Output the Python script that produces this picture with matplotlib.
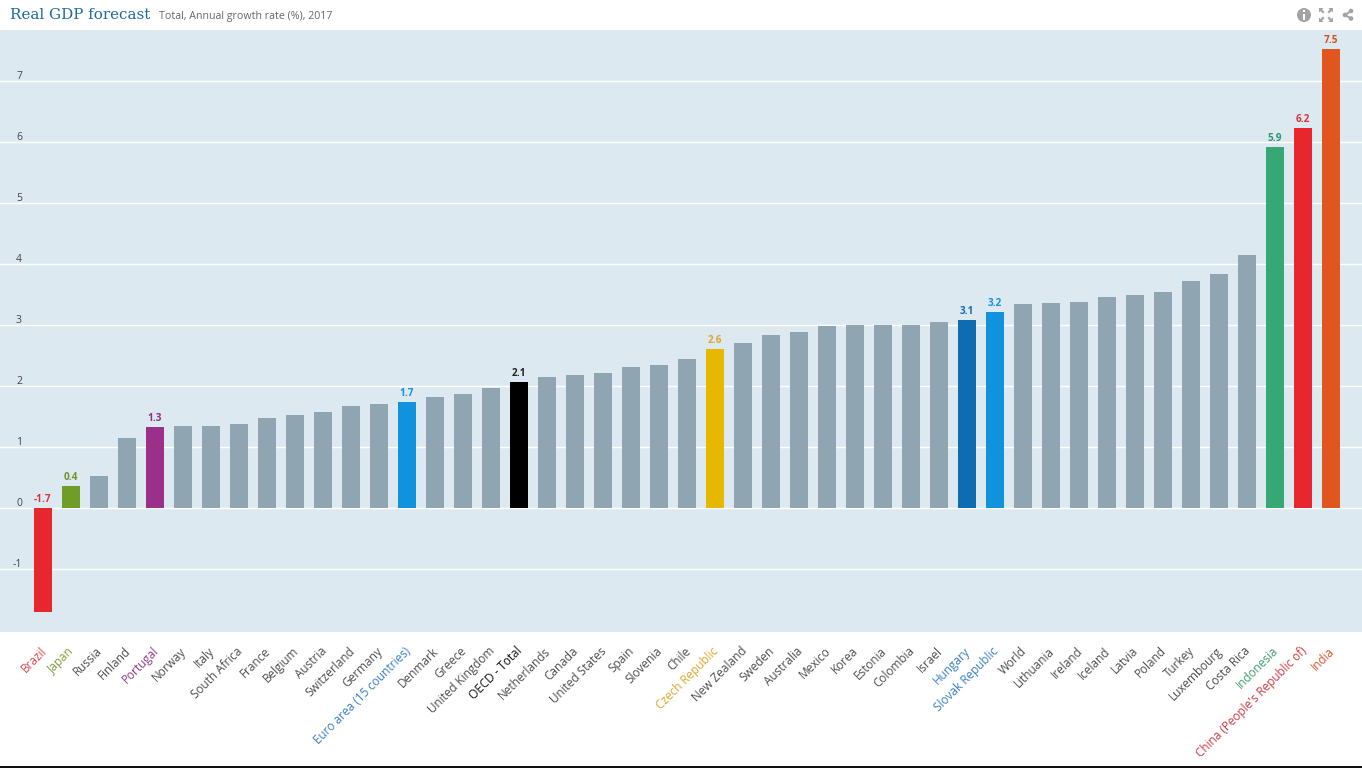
import matplotlib
matplotlib.use("Agg")
import matplotlib.pyplot as plt
from matplotlib.patches import Circle, Rectangle, Polygon
from matplotlib.transforms import ScaledTranslation

paises = ["Brazil", "Japan", "Russia", "Finland", "Portugal", "Norway", "Italy", "South Africa",
          "France", "Belgium", "Austria", "Switzerland", "Germany", "Euro area (15 countries)",
          "Denmark", "Greece", "United Kingdom", "OECD - Total", "Netherlands", "Canada",
          "United States", "Spain", "Slovenia", "Chile", "Czech Republic", "New Zealand", "Sweden",
          "Australia", "Mexico", "Korea", "Estonia", "Colombia", "Israel", "Hungary",
          "Slovak Republic", "World", "Lithuania", "Ireland", "Iceland", "Latvia", "Poland",
          "Turkey", "Luxembourg", "Costa Rica", "Indonesia", "China (People's Republic of)", "India"]
valores = [-1.70, 0.36, 0.52, 1.15, 1.33, 1.34, 1.35, 1.38, 1.48, 1.53, 1.57, 1.67, 1.70, 1.73,
           1.82, 1.87, 1.96, 2.07, 2.15, 2.18, 2.21, 2.31, 2.35, 2.44, 2.60, 2.70, 2.84, 2.89,
           2.98, 3.00, 3.00, 3.00, 3.05, 3.08, 3.22, 3.34, 3.36, 3.38, 3.46, 3.49, 3.54, 3.72,
           3.83, 4.14, 5.92, 6.23, 7.52]
y_ticks = [-1, 0, 1, 2, 3, 4, 5, 6, 7]

# colores de las barras destacadas
destacados = {"Brazil": "#e8262e", "Japan": "#6f9e28", "Portugal": "#9b3088",
              "Euro area (15 countries)": "#1192dc", "OECD - Total": "#000000",
              "Czech Republic": "#e6b800", "Hungary": "#0f6cb0", "Slovak Republic": "#1192dc",
              "Indonesia": "#35a873", "China (People's Republic of)": "#e8262e", "India": "#e0561e"}
color_etiqueta = {"Brazil": "#d9484d", "Japan": "#7d9e3c", "Portugal": "#8f3f85",
                  "Euro area (15 countries)": "#3a80c4", "Hungary": "#3a80c4", "Slovak Republic": "#3a80c4",
                  "Czech Republic": "#dca72a", "OECD - Total": "#111111", "Indonesia": "#3f9a70",
                  "China (People's Republic of)": "#cc3a42", "India": "#d2532c"}
color_valor = {"Brazil": "#d6343a", "Japan": "#6f9428", "Portugal": "#93307f", "Indonesia": "#2f9468",
               "China (People's Republic of)": "#d6343a", "India": "#d0501f",
               "Czech Republic": "#dca72a", "OECD - Total": "#222222"}
gris = "#8fa5b2"
fondo = "#dde9f1"

plt.rcParams["font.family"] = ["Open Sans", "DejaVu Sans"]
plt.rcParams["axes.unicode_minus"] = False

fig = plt.figure(figsize=(13.62, 7.68), dpi=100)
ax = fig.add_axes([0, 1 - 632 / 768, 1, 602 / 768])
ax.set_facecolor(fondo)

x = list(range(len(paises)))
colores = [destacados.get(p, gris) for p in paises]
ax.bar(x, valores, width=18 / 28, color=colores, zorder=3)
ax.set_xlim(-43 / 28, (1362 - 43) / 28)
ax.set_ylim(-124 / 61, 478 / 61)

for s in ax.spines.values():
    s.set_visible(False)
ax.set_yticks(y_ticks)
ax.grid(axis="y", color="white", lw=1, zorder=1)
ax.tick_params(axis="y", length=0, pad=-22 * 0.72, labelsize=7.5, labelcolor="#444444")
for lab in ax.get_yticklabels():
    lab.set_va("bottom")
    lab.set_transform(lab.get_transform() + ScaledTranslation(0, -1 / 100, fig.dpi_scale_trans))

ax.set_xticks(x)
ax.set_xticklabels(paises, rotation=45, ha="right", rotation_mode="anchor", fontsize=8.5)
ax.tick_params(axis="x", length=0, pad=9)
mover = ScaledTranslation(-3 / 100, 0, fig.dpi_scale_trans)
for lab, p in zip(ax.get_xticklabels(), paises):
    lab.set_color(color_etiqueta.get(p, "#4d4d4d"))
    lab.set_transform(lab.get_transform() + mover)

# valores sobre las barras destacadas
for i, p in enumerate(paises):
    if p in destacados:
        ax.annotate(f"{valores[i]:.1f}", (i, max(valores[i], 0)), xytext=(0, 2.2),
                    textcoords="offset points", ha="center", va="bottom", fontsize=7.2,
                    fontweight="bold", color=color_valor.get(p, destacados[p]), zorder=4)

# titulo
fig.text(10 / 1362, 1 - 15 / 768, "Real GDP forecast", family="DejaVu Serif", fontsize=10.9,
         color="#1f6a9f", va="center")
fig.text(159 / 1362, 1 - 16 / 768, "Total, Annual growth rate (%), 2017", fontsize=7.65,
         color="#666666", va="center")

# iconos y borde inferior, en pixeles
over = fig.add_axes([0, 0, 1, 1], facecolor="none")
over.set_xlim(0, 1362)
over.set_ylim(768, 0)
over.axis("off")
ic = "#a3a3a3"
over.add_patch(Circle((1304, 15), 7, color=ic, lw=0))
over.add_patch(Rectangle((1302.8, 13.5), 2.4, 6, color="white", lw=0))
over.add_patch(Rectangle((1302.8, 10), 2.4, 2.2, color="white", lw=0))
for cx, cy, sx, sy in [(1319, 8, 1, 1), (1333, 8, -1, 1), (1319, 22, 1, -1), (1333, 22, -1, -1)]:
    over.add_patch(Polygon([(cx, cy), (cx + 4.5 * sx, cy), (cx + 3 * sx, cy + 1.5 * sy), (cx + 5.5 * sx, cy + 4 * sy),
                            (cx + 4 * sx, cy + 5.5 * sy), (cx + 1.5 * sx, cy + 3 * sy), (cx, cy + 4.5 * sy)],
                           color=ic, lw=0))
over.plot([1351, 1345, 1351], [11, 15, 18.5], color=ic, lw=1.4)
for cx, cy in [(1351, 11), (1345, 15), (1351, 18.5)]:
    over.add_patch(Circle((cx, cy), 2.3, color=ic, lw=0))
over.add_patch(Rectangle((0, 766), 1362, 2, color="#111111", lw=0))

fig.savefig("out.png", dpi=100)
